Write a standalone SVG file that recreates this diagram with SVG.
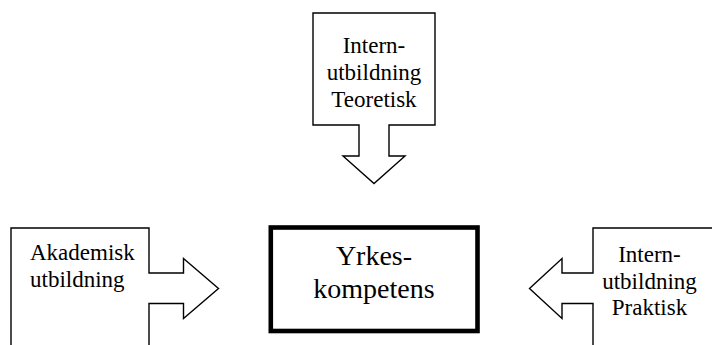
<svg xmlns="http://www.w3.org/2000/svg" width="712" height="345" viewBox="0 0 712 345">
<style>
.shape{fill:#fff;stroke:#000;stroke-width:1.4;stroke-linejoin:miter}
.t{font-family:"Liberation Serif","Times New Roman",serif;font-size:23px;fill:#000}
.c{text-anchor:middle}
.big{font-size:28px}
</style>
<rect width="712" height="345" fill="#fff"/>
<g id="teoretisk">
<path class="shape" d="M313,13 H435 V125 H389 V156 H405 L374,183.5 L343,156 H359 V125 H313 Z"/>
<text class="t c" x="374" y="53">Intern-</text>
<text class="t c" x="374" y="80">utbildning</text>
<text class="t c" x="374" y="107">Teoretisk</text>
</g>
<g id="akademisk">
<path class="shape" d="M11,360 V228 H149 V273 H183.5 V258.5 L218.5,288.5 L183.5,318.5 V303.5 H149 V360 Z"/>
<text class="t" x="30" y="260">Akademisk</text>
<text class="t" x="30" y="287">utbildning</text>
</g>
<g id="praktisk">
<path class="shape" d="M730,228 H593 V273 H562 V258.5 L529.5,288.5 L562,318.5 V303.5 H593 V360 H730 Z"/>
<text class="t c" x="649.5" y="262">Intern-</text>
<text class="t c" x="649.5" y="289">utbildning</text>
<text class="t c" x="649.5" y="315">Praktisk</text>
</g>
<g id="yrkeskompetens">
<rect x="270.8" y="227.5" width="206.7" height="103.5" fill="#fff" stroke="#000" stroke-width="4.6"/>
<text class="t c big" x="374" y="265">Yrkes-</text>
<text class="t c big" x="374" y="298">kompetens</text>
</g>
<g id="connectors"/>
</svg>
